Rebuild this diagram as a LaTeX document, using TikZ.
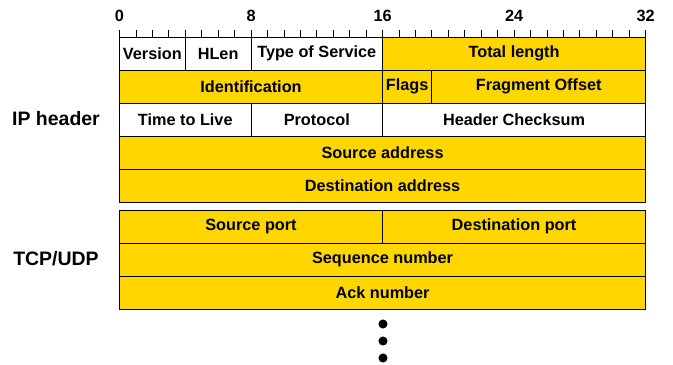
\documentclass[tikz,border=0pt]{standalone}
\usepackage{fontspec}
\setmainfont{Liberation Sans}
\usetikzlibrary{positioning}
\definecolor{gold}{RGB}{255,214,0}

\begin{document}
\begin{tikzpicture}[x=0.75pt,y=-0.75pt,line width=0.75pt,
    field/.style={draw,inner sep=0pt,outer sep=0pt,minimum height=24.75pt,
                  font=\fontsize{12.2}{14}\selectfont\bfseries},
    bits/.style={minimum width=#1*12.33pt},
    set/.style={fill=gold},
    tag/.style={font=\fontsize{14.6}{17}\selectfont\bfseries}]
    \useasboundingbox (0,0) rectangle (673,364);

    % bit scale
    \foreach \b in {0,...,32}
        \draw[line width=0.6pt] (119.5+16.44*\b,37) -- ++(0,-7);
    \foreach \b in {0,8,16,24,32}
        \node[font=\fontsize{12.2}{14}\selectfont\bfseries] (bit\b) at (119.5+16.44*\b,16) {\b};

    % IP header
    \node[field,bits=4,anchor=north west] (ver) at (119.5,37) {Version};
    \node[field,bits=4]      (hlen)  [right=0pt of ver]                {HLen};
    \node[field,bits=8]      (tos)   [right=0pt of hlen]               {Type of Service};
    \node[field,bits=16,set] (len)   [right=0pt of tos]                {Total length};
    \node[field,bits=16,set] (ident) [below right=0pt of ver.south west] {Identification};
    \node[field,bits=3,set]  (flags) [right=0pt of ident]              {Flags};
    \node[field,bits=13,set] (frag)  [right=0pt of flags]              {Fragment Offset};
    \node[field,bits=8]      (ttl)   [below right=0pt of ident.south west] {Time to Live};
    \node[field,bits=8]      (proto) [right=0pt of ttl]                {Protocol};
    \node[field,bits=16]     (cksum) [right=0pt of proto]              {Header Checksum};
    \node[field,bits=32,set] (src)   [below right=0pt of ttl.south west] {Source address};
    \node[field,bits=32,set] (dst)   [below right=0pt of src.south west] {Destination address};

    % TCP/UDP
    \node[field,bits=16,set] (sport) [below right=6pt and 0pt of dst.south west] {Source port};
    \node[field,bits=16,set] (dport) [right=0pt of sport]              {Destination port};
    \node[field,bits=32,set] (seq)   [below right=0pt of sport.south west] {Sequence number};
    \node[field,bits=32,set] (ack)   [below right=0pt of seq.south west] {Ack number};

    \node[tag] (ip)  at (56,119) {IP header};
    \node[tag] (tcp) at (56,259) {TCP/UDP};

    \foreach \y in {324,341,358}
        \fill (383,\y) circle (3.4pt);
\end{tikzpicture}
\end{document}
